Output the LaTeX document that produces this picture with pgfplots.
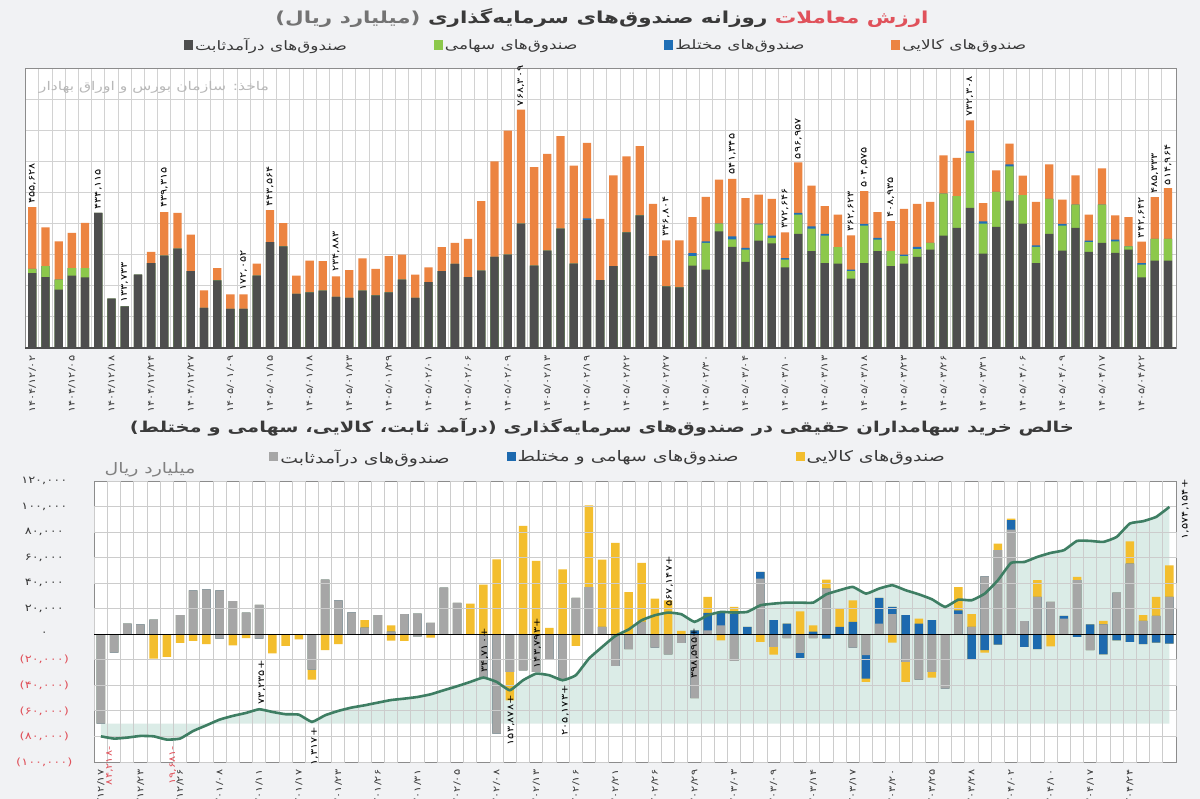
\documentclass[border=0pt]{standalone}
\usepackage{fontspec}
\setmainfont{DejaVu Sans}[Script=Arabic, FakeStretch=1.3]
\usepackage{pgfplots}
\usepackage{pgfplotstable}
\pgfplotsset{compat=1.18}
\TeXXeTstate=1
\newcommand\R[1]{\beginR#1\endR}
\newcommand\fs[1]{\fontsize{#1}{#1}\selectfont}
\definecolor{bgc}{HTML}{F1F2F4}
\definecolor{tgray}{HTML}{4E4E4E}
\definecolor{tgreen}{HTML}{8CC84B}
\definecolor{tblue}{HTML}{1F6FB6}
\definecolor{torange}{HTML}{EC8441}
\definecolor{bgray}{HTML}{A6A6A6}
\definecolor{bblue}{HTML}{1D6AAF}
\definecolor{byellow}{HTML}{F3BE2E}
\definecolor{lgreen}{HTML}{3E7E63}
\definecolor{areac}{HTML}{4FA08A}
\definecolor{gridc}{HTML}{D2D2D2}
\definecolor{titred}{HTML}{E0525B}
\definecolor{txt}{HTML}{3A3A3A}
\pagecolor{bgc}

\pgfplotstableread{
i G Gr B O
0 241000 254000 254000 453000
1 228000 263000 263000 388000
2 188000 220000 220000 343000
3 233000 257000 257000 370000
4 227000 257000 257000 402000
5 434000 434000 434000 434000
6 159000 159000 159000 159000
7 134000 134000 134000 134000
8 236000 236000 236000 236000
9 273000 273000 273000 309000
10 297000 297000 297000 437000
11 319000 319000 319000 434000
12 247000 247000 247000 364000
13 129000 129000 129000 185000
14 217000 217000 217000 257000
15 126000 126000 126000 172000
16 126000 126000 126000 172000
17 233000 233000 233000 271000
18 340000 340000 340000 443000
19 327000 327000 327000 401000
20 174000 174000 174000 233000
21 179000 179000 179000 281000
22 184000 184000 184000 279000
23 164000 164000 164000 230000
24 161000 161000 161000 250000
25 184000 184000 184000 288000
26 169000 169000 169000 254000
27 179000 179000 179000 295000
28 220000 220000 220000 300000
29 161000 161000 161000 236000
30 212000 212000 212000 259000
31 247000 247000 247000 324000
32 270000 270000 270000 338000
33 228000 228000 228000 351000
34 249000 249000 249000 472000
35 293000 293000 293000 600000
36 300000 300000 300000 699000
37 400000 400000 400000 766000
38 265000 265000 265000 581000
39 313000 313000 313000 624000
40 384000 384000 384000 681000
41 271000 271000 271000 586000
42 411000 411000 417000 659000
43 218000 218000 218000 415000
44 263000 263000 263000 555000
45 372000 372000 372000 616000
46 426000 426000 426000 649000
47 295000 295000 295000 463000
48 198000 198000 198000 346000
49 195000 195000 195000 346000
50 265000 295000 305000 421000
51 252000 338000 343000 486000
52 375000 400000 400000 541000
53 325000 349000 359000 544000
54 277000 316000 322000 482000
55 345000 397000 400000 493000
56 336000 354000 361000 479000
57 259000 284000 289000 372000
58 367000 429000 434000 597000
59 311000 384000 391000 522000
60 273000 361000 367000 456000
61 271000 324000 324000 429000
62 223000 247000 252000 362000
63 273000 393000 399000 504000
64 311000 348000 354000 437000
65 263000 311000 311000 408000
66 271000 295000 300000 447000
67 293000 318000 325000 463000
68 316000 338000 338000 470000
69 361000 496000 496000 619000
70 386000 488000 488000 611000
71 450000 627000 632000 732000
72 303000 400000 407000 466000
73 389000 502000 502000 571000
74 474000 584000 590000 657000
75 400000 491000 491000 554000
76 273000 325000 330000 470000
77 367000 479000 479000 590000
78 313000 393000 399000 477000
79 386000 461000 461000 555000
80 309000 340000 345000 429000
81 338000 461000 461000 577000
82 306000 343000 348000 426000
83 316000 327000 327000 421000
84 227000 268000 273000 342000
85 281000 351000 351000 485000
86 281000 351000 351000 514000
}\topdata

\pgfplotstableread{
i Gp Bp Yp Gn Bn Yn L
0 0 0 0 -70000 -70000 -70000 -79900
1 0 0 0 -14400 -14400 -14400 -81700
2 8400 8400 8400 0 0 0 -80900
3 7800 7800 7800 0 0 0 -79600
4 11500 11500 11500 0 0 -19000 -79900
5 0 0 0 0 0 -17700 -82500
6 14900 14900 14900 0 0 -6800 -81700
7 34400 34400 34400 0 0 -5200 -75700
8 35200 35200 35200 0 0 -7800 -71300
9 34400 34400 34400 -3400 -3400 -3400 -66800
10 26000 26000 26000 0 0 -8600 -63900
11 17000 17000 17000 0 0 -3000 -61600
12 23000 23000 23000 -3400 -3400 -3400 -58700
13 0 0 0 0 0 -15000 -60800
14 0 0 0 0 0 -9000 -62600
15 0 0 0 0 0 -4000 -62900
16 0 0 0 -27700 -27700 -35500 -68600
17 42800 42800 42800 0 0 -12500 -63400
18 26600 26600 26600 0 0 -7800 -60000
19 17200 17200 17200 0 0 0 -57400
20 5200 5200 11000 0 0 0 -55600
21 15000 15000 15000 0 0 0 -53500
22 2000 2000 7000 0 0 -5000 -51500
23 15700 15700 15700 0 0 -5200 -50400
24 16200 16200 16200 -1600 -1600 -1600 -49100
25 8900 8900 8900 0 0 -2600 -47000
26 36500 36500 36500 0 0 0 -43800
27 24500 24500 24500 0 0 0 -40700
28 0 0 24000 0 0 0 -37300
29 0 0 38900 -33400 -33400 -33400 -33900
30 0 0 58700 -77800 -77800 -77800 -37300
31 0 0 0 -29500 -29500 -51700 -43800
32 0 0 84800 -28200 -28200 -28200 -36000
33 0 0 57400 -29500 -29500 -29500 -30800
34 0 0 5000 -19800 -19800 -19800 -32100
35 0 0 50900 -36000 -36000 -36000 -36000
36 28400 28400 28400 0 0 -9100 -32100
37 37000 37000 101000 0 0 0 -19000
38 5700 5700 58500 0 0 0 -9900
39 0 0 71500 -24800 -24800 -24800 -1300
40 0 0 33000 -11700 -11700 -11700 3700
41 9700 9700 55900 0 0 0 11000
42 0 0 28000 -10400 -10400 -10400 14900
43 0 0 26600 -15700 -15700 -15700 17000
44 0 0 2600 -6800 -6800 -6800 15700
45 0 3000 3000 -49900 -49900 -49900 9700
46 3000 16700 29200 0 0 0 14900
47 7000 17500 17500 0 0 -4700 17500
48 0 16200 21400 -20900 -20900 -20900 17000
49 0 5700 5700 0 0 0 17500
50 43600 48800 48800 0 0 -6000 22700
51 0 11000 11000 -9900 -9900 -15900 24000
52 0 8400 8400 -3000 -3000 -3000 24800
53 0 0 18000 -14600 -18500 -18500 24800
54 0 2000 7000 -3000 -3000 -3000 24800
55 35800 35800 42800 0 -3400 -3400 31300
56 0 5700 19600 0 0 0 34500
57 0 9700 26600 -10400 -10400 -10400 37100
58 0 0 0 -16400 -34700 -37300 31800
59 8400 28400 28400 0 0 0 35800
60 15700 21400 21400 0 0 -6500 38400
61 0 14900 14900 -21700 -21700 -37300 34500
62 0 8400 12300 -35500 -35500 -35500 31300
63 0 11000 11000 -29500 -29500 -33900 27400
64 0 0 0 -42500 -42500 -42500 21400
65 15700 18800 37000 0 0 0 27100
66 5700 5700 15700 0 -19800 -19800 26600
67 45400 45400 45400 0 -12500 -14400 31800
68 65800 65800 71000 0 -8100 -8100 42300
69 82000 89300 90600 0 0 0 55900
70 10200 10200 10200 0 -9900 -9900 56600
71 29200 29200 42300 0 -11700 -11700 60600
72 25300 25300 25300 0 0 -9400 63700
73 12300 14400 14400 0 0 0 65800
74 42300 42300 44900 0 -2000 -2000 73100
75 0 7800 7800 -12500 -12500 -12500 73100
76 7800 7800 10400 0 -15700 -15700 72300
77 32600 32600 32600 0 -4700 -4700 76200
78 55300 55300 72800 0 -6000 -6000 86700
79 10400 10400 14900 0 -7800 -7800 88500
80 14400 14400 29200 0 -6500 -6500 91900
81 29200 29200 54000 0 -7300 -7300 99700
}\botdata

% shaded band: cumulative line down to the -70,000 base
\pgfplotstableread{
x y
0 -79900
1 -81700
2 -80900
3 -79600
4 -79900
5 -82500
6 -81700
7 -75700
8 -71300
9 -66800
10 -63900
11 -61600
12 -58700
13 -60800
14 -62600
15 -62900
16 -68600
17 -63400
18 -60000
19 -57400
20 -55600
21 -53500
22 -51500
23 -50400
24 -49100
25 -47000
26 -43800
27 -40700
28 -37300
29 -33900
30 -37300
31 -43800
32 -36000
33 -30800
34 -32100
35 -36000
36 -32100
37 -19000
38 -9900
39 -1300
40 3700
41 11000
42 14900
43 17000
44 15700
45 9700
46 14900
47 17500
48 17000
49 17500
50 22700
51 24000
52 24800
53 24800
54 24800
55 31300
56 34500
57 37100
58 31800
59 35800
60 38400
61 34500
62 31300
63 27400
64 21400
65 27100
66 26600
67 31800
68 42300
69 55900
70 56600
71 60600
72 63700
73 65800
74 73100
75 73100
76 72300
77 76200
78 86700
79 88500
80 91900
81 99700
81 -70000
0 -70000
}\areadata

\begin{document}
\begin{tikzpicture}[x=1pt,y=1pt]

% ---------------- top chart ----------------
\begin{axis}[
  at={(25pt,451pt)}, anchor=south west, scale only axis,
  width=1151pt, height=280pt,
  xmin=-0.55, xmax=86.6, ymin=0, ymax=900000,
  clip=false,
  axis background/.style={fill=white},
  axis line style={draw=black!45, line width=0.8pt},
  ytick={100000,200000,300000,400000,500000,600000,700000,800000},
  yticklabels={}, scaled y ticks=false,
  ymajorgrids,
  xtick={0,3,...,84},
  xticklabels={۱۴۰۴/۱۲/۰۲,۱۴۰۴/۱۲/۰۵,۱۴۰۴/۱۲/۱۸,۱۴۰۴/۱۲/۲۴,۱۴۰۴/۱۲/۲۷,۱۴۰۵/۰۱/۰۹,۱۴۰۵/۰۱/۱۵,۱۴۰۵/۰۱/۱۸,۱۴۰۵/۰۱/۲۳,۱۴۰۵/۰۱/۲۹,۱۴۰۵/۰۲/۰۱,۱۴۰۵/۰۲/۰۶,۱۴۰۵/۰۲/۰۹,۱۴۰۵/۰۲/۱۳,۱۴۰۵/۰۲/۱۹,۱۴۰۵/۰۲/۲۲,۱۴۰۵/۰۲/۲۷,۱۴۰۵/۰۲/۳۰,۱۴۰۵/۰۳/۰۴,۱۴۰۵/۰۳/۱۰,۱۴۰۵/۰۳/۱۳,۱۴۰۵/۰۳/۱۸,۱۴۰۵/۰۳/۲۳,۱۴۰۵/۰۳/۲۶,۱۴۰۵/۰۳/۳۱,۱۴۰۵/۰۴/۰۶,۱۴۰۵/۰۴/۰۹,۱۴۰۵/۰۴/۱۷,۱۴۰۵/۰۴/۲۲},
  minor xtick={0.5,1.5,...,85.5},
  xminorgrids,
  major grid style={draw=gridc, line width=0.9pt},
  minor grid style={draw=gridc, line width=0.9pt},
  tick style={draw=none},
  xticklabel style={rotate=90, anchor=east, font=\fs{8.8}, text=txt},
  ybar, bar width=8.3pt,
  legend columns=4, reverse legend,
  legend style={at={(0.505,1)}, anchor=center, yshift=23pt, draw=none, fill=none,
    font=\fs{13}, text=txt, /tikz/every even column/.append style={column sep=85pt}},
  legend image code/.code={\fill[#1] (0pt,-4.5pt) rectangle (9pt,4.5pt);},
]
\addplot[fill=torange, draw=none, bar shift=0pt] table[x=i,y=O]{\topdata};
\addlegendentry{\R{صندوق^^^^200cهای کالایی}}
\addplot[fill=tblue, draw=none, bar shift=0pt] table[x=i,y=B]{\topdata};
\addlegendentry{\R{صندوق^^^^200cهای مختلط}}
\addplot[fill=tgreen, draw=none, bar shift=0pt] table[x=i,y=Gr]{\topdata};
\addlegendentry{\R{صندوق^^^^200cهای سهامی}}
\addplot[fill=tgray, draw=none, bar shift=0pt] table[x=i,y=G]{\topdata};
\addlegendentry{\R{صندوق^^^^200cهای درآمدثابت}}
\addplot[draw=tgray, line width=1.6pt, sharp plot, forget plot, mark=none] coordinates {(-0.55,0) (86.6,0)};
\begin{scope}[every node/.style={rotate=90, anchor=west, font=\fs{8.8}, text=black, inner sep=1.5pt}]
\node at (axis cs:0,458000) {۴۵۵,۶۲۸};
\node at (axis cs:5,440000) {۴۳۴,۱۱۵};
\node at (axis cs:7,140000) {۱۳۳,۷۳۳};
\node at (axis cs:10,445000) {۴۳۹,۳۱۵};
\node at (axis cs:16,178000) {۱۷۲,۰۵۲};
\node at (axis cs:18,448000) {۴۴۳,۵۶۴};
\node at (axis cs:23,240000) {۲۳۴,۸۸۳};
\node at (axis cs:37,772000) {۷۶۸,۳۰۹};
\node at (axis cs:48,352000) {۳۴۶,۸۰۴};
\node at (axis cs:53,553000) {۵۴۱,۳۴۵};
\node at (axis cs:57,378000) {۳۷۲,۶۴۶};
\node at (axis cs:58,602000) {۵۹۶,۹۵۷};
\node at (axis cs:62,368000) {۳۶۲,۶۲۳};
\node at (axis cs:63,510000) {۵۰۴,۵۷۵};
\node at (axis cs:65,413000) {۴۰۸,۹۳۵};
\node at (axis cs:71,738000) {۷۳۲,۳۰۸};
\node at (axis cs:84,348000) {۳۴۲,۶۴۲};
\node at (axis cs:85,490000) {۴۸۵,۳۳۳};
\node at (axis cs:86,518000) {۵۱۴,۹۶۴};
\end{scope}
\end{axis}

% ---------------- bottom chart ----------------
\begin{axis}[
  at={(94.3pt,37pt)}, anchor=south west, scale only axis,
  width=1081.7pt, height=281pt,
  xmin=-0.5, xmax=81.5, ymin=-100000, ymax=120000,
  clip=false,
  axis background/.style={fill=white},
  axis line style={draw=black!45, line width=0.8pt},
  ytick={-100000,-80000,-60000,-40000,-20000,0,20000,40000,60000,80000,100000,120000},
  yticklabels={{\textcolor{titred}{(۱۰۰,۰۰۰)}},{\textcolor{titred}{(۸۰,۰۰۰)}},{\textcolor{titred}{(۶۰,۰۰۰)}},{\textcolor{titred}{(۴۰,۰۰۰)}},{\textcolor{titred}{(۲۰,۰۰۰)}},{۰},{۲۰,۰۰۰},{۴۰,۰۰۰},{۶۰,۰۰۰},{۸۰,۰۰۰},{۱۰۰,۰۰۰},{۱۲۰,۰۰۰}},
  scaled y ticks=false,
  xtick={0,3,...,78},
  xticklabels={۱۴۰۴/۱۲/۱۷,۱۴۰۴/۱۲/۲۳,۱۴۰۴/۱۲/۲۶,۱۴۰۵/۰۱/۰۸,۱۴۰۵/۰۱/۱۱,۱۴۰۵/۰۱/۱۷,۱۴۰۵/۰۱/۲۳,۱۴۰۵/۰۱/۲۶,۱۴۰۵/۰۱/۳۱,۱۴۰۵/۰۲/۰۵,۱۴۰۵/۰۲/۰۸,۱۴۰۵/۰۲/۱۳,۱۴۰۵/۰۲/۱۶,۱۴۰۵/۰۲/۲۱,۱۴۰۵/۰۲/۲۶,۱۴۰۵/۰۲/۲۹,۱۴۰۵/۰۳/۰۳,۱۴۰۵/۰۳/۰۹,۱۴۰۵/۰۳/۱۴,۱۴۰۵/۰۳/۱۷,۱۴۰۵/۰۳/۲۰,۱۴۰۵/۰۳/۲۵,۱۴۰۵/۰۳/۲۸,۱۴۰۵/۰۴/۰۲,۱۴۰۵/۰۴/۱۰,۱۴۰۵/۰۴/۱۷,۱۴۰۵/۰۴/۲۴},
  tick style={draw=none},
  xticklabel style={rotate=90, anchor=east, font=\fs{8.8}, text=txt},
  yticklabel style={anchor=center, xshift=-50pt, font=\fs{10}, text=txt},
  ybar, bar width=8.5pt,
  legend columns=3, reverse legend,
  legend style={at={(0.475,1)}, anchor=center, yshift=24pt, draw=none, fill=none,
    font=\fs{14.5}, text=txt, /tikz/every even column/.append style={column sep=55pt}},
  legend image code/.code={\fill[#1] (0pt,-4.5pt) rectangle (9pt,4.5pt);},
]
\addplot[fill=areac, fill opacity=0.2, draw=none, sharp plot, forget plot] table[x=x,y=y]{\areadata};
\addplot[fill=byellow, draw=none, bar shift=0pt] table[x=i,y=Yp]{\botdata};
\addlegendentry{\R{صندوق^^^^200cهای کالایی}}
\addplot[fill=byellow, draw=none, bar shift=0pt, forget plot] table[x=i,y=Yn]{\botdata};
\addplot[fill=bblue, draw=none, bar shift=0pt] table[x=i,y=Bp]{\botdata};
\addlegendentry{\R{صندوق^^^^200cهای سهامی و مختلط}}
\addplot[fill=bblue, draw=none, bar shift=0pt, forget plot] table[x=i,y=Bn]{\botdata};
\addplot[fill=bgray, draw=none, bar shift=0pt] table[x=i,y=Gp]{\botdata};
\addlegendentry{\R{صندوق^^^^200cهای درآمدثابت}}
\addplot[fill=bgray, draw=none, bar shift=0pt, forget plot] table[x=i,y=Gn]{\botdata};
% grid: vertical lines between the bars (one zigzag path)
\addplot[draw=black!20, line width=0.9pt, sharp plot, forget plot, mark=none] coordinates {
(0.5,-100000) (0.5,120000) (1.5,120000) (1.5,-100000) (2.5,-100000) (2.5,120000) (3.5,120000) (3.5,-100000)
(4.5,-100000) (4.5,120000) (5.5,120000) (5.5,-100000) (6.5,-100000) (6.5,120000) (7.5,120000) (7.5,-100000)
(8.5,-100000) (8.5,120000) (9.5,120000) (9.5,-100000) (10.5,-100000) (10.5,120000) (11.5,120000) (11.5,-100000)
(12.5,-100000) (12.5,120000) (13.5,120000) (13.5,-100000) (14.5,-100000) (14.5,120000) (15.5,120000) (15.5,-100000)
(16.5,-100000) (16.5,120000) (17.5,120000) (17.5,-100000) (18.5,-100000) (18.5,120000) (19.5,120000) (19.5,-100000)
(20.5,-100000) (20.5,120000) (21.5,120000) (21.5,-100000) (22.5,-100000) (22.5,120000) (23.5,120000) (23.5,-100000)
(24.5,-100000) (24.5,120000) (25.5,120000) (25.5,-100000) (26.5,-100000) (26.5,120000) (27.5,120000) (27.5,-100000)
(28.5,-100000) (28.5,120000) (29.5,120000) (29.5,-100000) (30.5,-100000) (30.5,120000) (31.5,120000) (31.5,-100000)
(32.5,-100000) (32.5,120000) (33.5,120000) (33.5,-100000) (34.5,-100000) (34.5,120000) (35.5,120000) (35.5,-100000)
(36.5,-100000) (36.5,120000) (37.5,120000) (37.5,-100000) (38.5,-100000) (38.5,120000) (39.5,120000) (39.5,-100000)
(40.5,-100000) (40.5,120000) (41.5,120000) (41.5,-100000) (42.5,-100000) (42.5,120000) (43.5,120000) (43.5,-100000)
(44.5,-100000) (44.5,120000) (45.5,120000) (45.5,-100000) (46.5,-100000) (46.5,120000) (47.5,120000) (47.5,-100000)
(48.5,-100000) (48.5,120000) (49.5,120000) (49.5,-100000) (50.5,-100000) (50.5,120000) (51.5,120000) (51.5,-100000)
(52.5,-100000) (52.5,120000) (53.5,120000) (53.5,-100000) (54.5,-100000) (54.5,120000) (55.5,120000) (55.5,-100000)
(56.5,-100000) (56.5,120000) (57.5,120000) (57.5,-100000) (58.5,-100000) (58.5,120000) (59.5,120000) (59.5,-100000)
(60.5,-100000) (60.5,120000) (61.5,120000) (61.5,-100000) (62.5,-100000) (62.5,120000) (63.5,120000) (63.5,-100000)
(64.5,-100000) (64.5,120000) (65.5,120000) (65.5,-100000) (66.5,-100000) (66.5,120000) (67.5,120000) (67.5,-100000)
(68.5,-100000) (68.5,120000) (69.5,120000) (69.5,-100000) (70.5,-100000) (70.5,120000) (71.5,120000) (71.5,-100000)
(72.5,-100000) (72.5,120000) (73.5,120000) (73.5,-100000) (74.5,-100000) (74.5,120000) (75.5,120000) (75.5,-100000)
(76.5,-100000) (76.5,120000) (77.5,120000) (77.5,-100000) (78.5,-100000) (78.5,120000) (79.5,120000) (79.5,-100000)
(80.5,-100000) (80.5,120000)
};
% grid: horizontal lines every 20,000 (one zigzag path along the side borders)
\addplot[draw=black!20, line width=0.9pt, sharp plot, forget plot, mark=none] coordinates {
(-0.5,-80000) (81.5,-80000) (81.5,-60000) (-0.5,-60000) (-0.5,-40000) (81.5,-40000) (81.5,-20000) (-0.5,-20000)
(-0.5,20000) (81.5,20000) (81.5,40000) (-0.5,40000) (-0.5,60000) (81.5,60000) (81.5,80000) (-0.5,80000)
(-0.5,100000) (81.5,100000)
};
\addplot[draw=lgreen, line width=2.6pt, smooth, tension=0.25, forget plot, mark=none] table[x=i,y=L]{\botdata};
\addplot[draw=black, line width=1.2pt, sharp plot, forget plot, mark=none] coordinates {(-0.5,0) (81.5,0)};
\begin{scope}[every node/.style={rotate=90, anchor=center, font=\fs{8.8}, text=black, inner sep=1pt}]
\node[text=titred] at (axis cs:0.66,-103000) {-۸۴,۲۱۸};
\node[text=titred] at (axis cs:5.45,-102600) {-۱۹,۶۸۱};
\node at (axis cs:12.2,-37600) {+۷۳,۲۳۵};
\node at (axis cs:16.2,-87700) {+۱,۳۱۷};
\node at (axis cs:29.1,-12500) {+۳۴,۷۱۰};
\node at (axis cs:31.1,-67300) {+۱۵۳,۸۷۸};
\node at (axis cs:33.1,-7000) {+۱۴۳,۷۹۳};
\node at (axis cs:35.2,-59500) {+۲۰۵,۱۷۳};
\node at (axis cs:43.1,41500) {+۵۶۷,۱۴۷};
\node at (axis cs:45,-14900) {+۳۹۸,۵۹۵};
\node at (axis cs:82.2,97900) {+۱,۵۷۴,۱۵۴};
\end{scope}
\end{axis}

% ---------------- texts ----------------
\node[font=\fs{16.5}\bfseries, inner sep=0pt] at (602pt,781pt) {\hbox{\color{black!55}\R{(میلیارد ریال)}} \hbox{\color{txt}\R{روزانه صندوق^^^^200cهای سرمایه^^^^200cگذاری}} \hbox{\color{titred}\R{ارزش معاملات}}};
\node[font=\fs{12}, text=black!28] at (154pt,712pt) {\R{ماخذ: سازمان بورس و اوراق بهادار}};
\node[font=\fs{15}\bfseries, text=txt] at (602pt,372pt) {\R{خالص خرید سهامداران حقیقی در صندوق^^^^200cهای سرمایه^^^^200cگذاری (درآمد ثابت، کالایی، سهامی و مختلط)}};
\node[font=\fs{14.5}, text=black!50] at (150pt,329pt) {\R{میلیارد ریال}};

\pgfresetboundingbox
\path[use as bounding box] (0pt,0pt) rectangle (1200pt,799pt);
\end{tikzpicture}
\end{document}
